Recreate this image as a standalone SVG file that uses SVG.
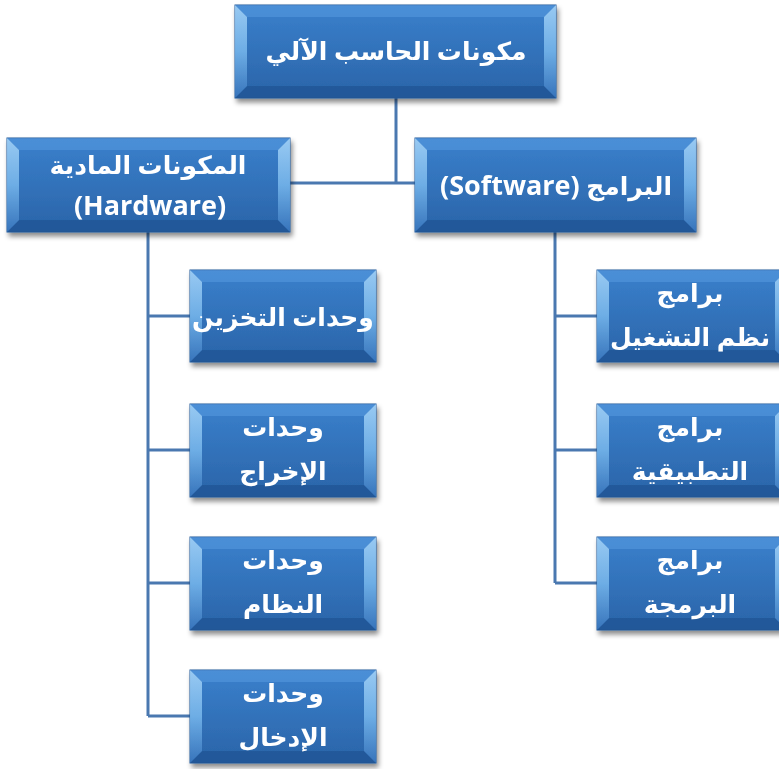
<svg xmlns="http://www.w3.org/2000/svg" width="779" height="769" viewBox="0 0 779 769">
<defs>
<linearGradient id="g" x1="0" y1="0" x2="0" y2="1">
<stop offset="0" stop-color="#3a80cc"/>
<stop offset="1" stop-color="#2a64a8"/>
</linearGradient>
<linearGradient id="side" x1="0" y1="0" x2="0" y2="1">
<stop offset="0" stop-color="#b0dcfc"/>
<stop offset="0.5" stop-color="#7cbcf0"/>
<stop offset="1" stop-color="#3a78c0"/>
</linearGradient>
<filter id="sh" x="-10%" y="-10%" width="125%" height="130%">
<feDropShadow dx="2" dy="4" stdDeviation="2.5" flood-color="#000" flood-opacity="0.45"/>
</filter>
</defs>
<style>
.box{fill:url(#g);stroke:#245a9a;stroke-width:1}
.top{fill:#5a9ae0;opacity:0.55}
.bot{fill:#1c4e8c;opacity:0.55}
.side{fill:url(#side);opacity:0.8}
.t{font-family:"Open Sans","DejaVu Sans",sans-serif;font-weight:bold;fill:#fff;text-anchor:middle;direction:rtl;font-size:25px}
.lat{font-size:27px}
.conn{stroke:#4a78b0;stroke-width:3;fill:none}
</style>
<rect width="779" height="769" fill="#fff"/>
<g id="connectors">
<path class="conn" d="M396 98 V183 M290 183 H415"/>
<path class="conn" d="M148 232 V716 M148 316 H190 M148 450 H190 M148 583 H190 M148 716 H190"/>
<path class="conn" d="M555 232 V583 M555 316 H597 M555 450 H597 M555 583 H597"/>
</g>
<g id="n-root" filter="url(#sh)">
<rect class="box" x="235" y="5" width="321" height="93"/>
<polygon class="top" points="235,5 556,5 544,17 247,17"/>
<polygon class="bot" points="235,98 556,98 544,86 247,86"/>
<polygon class="side" points="235,5 247,17 247,86 235,98"/>
<polygon class="side" points="556,5 544,17 544,86 556,98"/>
<text class="t" x="396" y="60">مكونات الحاسب الآلي</text>
</g>
<g id="n-hardware" filter="url(#sh)">
<rect class="box" x="7" y="138" width="283" height="94"/>
<polygon class="top" points="7,138 290,138 278,150 19,150"/>
<polygon class="bot" points="7,232 290,232 278,220 19,220"/>
<polygon class="side" points="7,138 19,150 19,220 7,232"/>
<polygon class="side" points="290,138 278,150 278,220 290,232"/>
<text class="t" x="148" y="174">المكونات المادية</text>
<text class="t lat" x="150" y="215" style="direction:ltr">(Hardware)</text>
</g>
<g id="n-software" filter="url(#sh)">
<rect class="box" x="415" y="138" width="281" height="94"/>
<polygon class="top" points="415,138 696,138 684,150 427,150"/>
<polygon class="bot" points="415,232 696,232 684,220 427,220"/>
<polygon class="side" points="415,138 427,150 427,220 415,232"/>
<polygon class="side" points="696,138 684,150 684,220 696,232"/>
<text class="t" x="556" y="195">البرامج <tspan class="lat">(Software)</tspan></text>
</g>
<g id="n-storage" filter="url(#sh)">
<rect class="box" x="190" y="270" width="186" height="92"/>
<polygon class="top" points="190,270 376,270 364,282 202,282"/>
<polygon class="bot" points="190,362 376,362 364,350 202,350"/>
<polygon class="side" points="190,270 202,282 202,350 190,362"/>
<polygon class="side" points="376,270 364,282 364,350 376,362"/>
<text class="t" x="283" y="326">وحدات التخزين</text>
</g>
<g id="n-output" filter="url(#sh)">
<rect class="box" x="190" y="404" width="186" height="93"/>
<polygon class="top" points="190,404 376,404 364,416 202,416"/>
<polygon class="bot" points="190,497 376,497 364,485 202,485"/>
<polygon class="side" points="190,404 202,416 202,485 190,497"/>
<polygon class="side" points="376,404 364,416 364,485 376,497"/>
<text class="t" x="283" y="436">وحدات</text>
<text class="t" x="283" y="480">الإخراج</text>
</g>
<g id="n-system" filter="url(#sh)">
<rect class="box" x="190" y="537" width="186" height="93"/>
<polygon class="top" points="190,537 376,537 364,549 202,549"/>
<polygon class="bot" points="190,630 376,630 364,618 202,618"/>
<polygon class="side" points="190,537 202,549 202,618 190,630"/>
<polygon class="side" points="376,537 364,549 364,618 376,630"/>
<text class="t" x="283" y="569">وحدات</text>
<text class="t" x="283" y="613">النظام</text>
</g>
<g id="n-input" filter="url(#sh)">
<rect class="box" x="190" y="670" width="186" height="93"/>
<polygon class="top" points="190,670 376,670 364,682 202,682"/>
<polygon class="bot" points="190,763 376,763 364,751 202,751"/>
<polygon class="side" points="190,670 202,682 202,751 190,763"/>
<polygon class="side" points="376,670 364,682 364,751 376,763"/>
<text class="t" x="283" y="702">وحدات</text>
<text class="t" x="283" y="746">الإدخال</text>
</g>
<g id="n-os" filter="url(#sh)">
<rect class="box" x="597" y="270" width="190" height="92"/>
<polygon class="top" points="597,270 787,270 775,282 609,282"/>
<polygon class="bot" points="597,362 787,362 775,350 609,350"/>
<polygon class="side" points="597,270 609,282 609,350 597,362"/>
<polygon class="side" points="787,270 775,282 775,350 787,362"/>
<text class="t" x="690" y="302">برامج</text>
<text class="t" x="690" y="346">نظم التشغيل</text>
</g>
<g id="n-apps" filter="url(#sh)">
<rect class="box" x="597" y="404" width="190" height="93"/>
<polygon class="top" points="597,404 787,404 775,416 609,416"/>
<polygon class="bot" points="597,497 787,497 775,485 609,485"/>
<polygon class="side" points="597,404 609,416 609,485 597,497"/>
<polygon class="side" points="787,404 775,416 775,485 787,497"/>
<text class="t" x="690" y="436">برامج</text>
<text class="t" x="690" y="480">التطبيقية</text>
</g>
<g id="n-prog" filter="url(#sh)">
<rect class="box" x="597" y="537" width="190" height="93"/>
<polygon class="top" points="597,537 787,537 775,549 609,549"/>
<polygon class="bot" points="597,630 787,630 775,618 609,618"/>
<polygon class="side" points="597,537 609,549 609,618 597,630"/>
<polygon class="side" points="787,537 775,549 775,618 787,630"/>
<text class="t" x="690" y="569">برامج</text>
<text class="t" x="690" y="613">البرمجة</text>
</g>
</svg>
